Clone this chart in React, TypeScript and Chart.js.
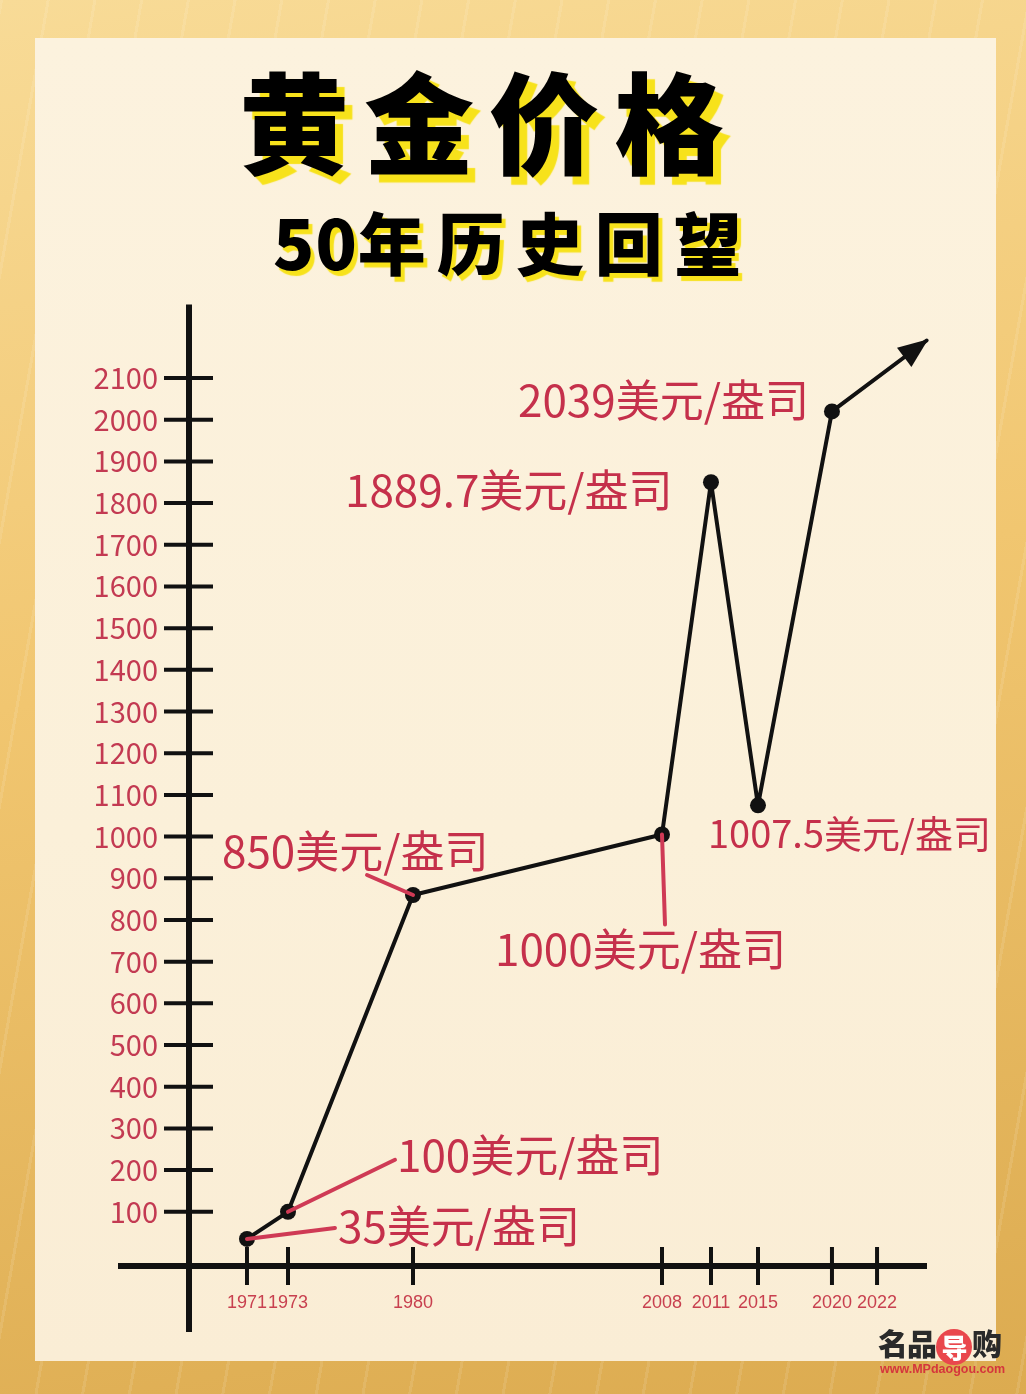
import React, { useEffect, useRef } from 'react';
import { Chart, registerables, LinearScale } from 'chart.js';

Chart.register(...registerables);

// ---------- data ----------
const years = [1971, 1973, 1980, 2008, 2011, 2015, 2020];
const prices = [35, 100, 860, 1005, 1850, 1075, 2020];
const priceLabels = [
  '35美元/盎司',
  '100美元/盎司',
  '850美元/盎司',
  '1000美元/盎司',
  '1889.7美元/盎司',
  '1007.5美元/盎司',
  '2039美元/盎司',
];
const trendYear = 2024.2;
const trendPrice = 2190;
const xTickYears = [1971, 1973, 1980, 2008, 2011, 2015, 2020, 2022];
const yTickValues = [100, 200, 300, 400, 500, 600, 700, 800, 900, 1000, 1100, 1200, 1300, 1400, 1500, 1600, 1700, 1800, 1900, 2000, 2100];

// ---------- layout / style ----------
// the hand-drawn x axis is not to scale: each tick year sits at a fixed fraction of the axis
const xAnchorFractions = [0.0798, 0.1353, 0.3045, 0.6414, 0.7077, 0.7713, 0.8714, 0.9324];
const labelLayout = [
  { dx: 91, dy: -13, size: 44, leader: [88, -11] },
  { dx: 109, dy: -57, size: 44, leader: [107, -52] },
  { dx: -191, dy: -44, size: 44, leader: [-46, -20] },
  { dx: -167, dy: 115, size: 44, leader: [3, 90] },
  { dx: -366, dy: 8, size: 44 },
  { dx: -50, dy: 28, size: 38 },
  { dx: -314, dy: -11, size: 44 },
];
const RED = '#c5304b';
const INK = '#111111';

class BrokenYearScale extends LinearScale {
  static id = 'brokenYear';
  static defaults = LinearScale.defaults;
  getPixelForValue(value: number) {
    if (value === null || value === undefined || isNaN(value)) return NaN;
    const vs = xTickYears;
    const fs = xAnchorFractions;
    let i = 0;
    while (i < vs.length - 2 && value > vs[i + 1]) i++;
    const f = fs[i] + ((value - vs[i]) * (fs[i + 1] - fs[i])) / (vs[i + 1] - vs[i]);
    return this.getPixelForDecimal(f);
  }
  getValueForPixel(pixel: number) {
    const f = this.getDecimalForPixel(pixel);
    const vs = xTickYears;
    const fs = xAnchorFractions;
    let i = 0;
    while (i < fs.length - 2 && f > fs[i + 1]) i++;
    return vs[i] + ((f - fs[i]) * (vs[i + 1] - vs[i])) / (fs[i + 1] - fs[i]);
  }
}
Chart.register(BrokenYearScale as any);

const axesPlugin = {
  id: 'handAxes',
  beforeDatasetsDraw(chart: any) {
    const { ctx, chartArea, scales } = chart;
    const xs = scales.x;
    const ys = scales.y;
    ctx.save();
    ctx.strokeStyle = INK;
    ctx.lineCap = 'butt';
    ctx.lineWidth = 6;
    ctx.beginPath();
    ctx.moveTo(chartArea.left + 1, chartArea.top - 11);
    ctx.lineTo(chartArea.left + 1, chartArea.bottom + 66);
    ctx.stroke();
    ctx.beginPath();
    ctx.moveTo(chartArea.left - 70, chartArea.bottom);
    ctx.lineTo(chartArea.right, chartArea.bottom);
    ctx.stroke();
    ctx.lineWidth = 4;
    ys.ticks.forEach((t: any) => {
      const y = ys.getPixelForValue(t.value);
      ctx.beginPath();
      ctx.moveTo(chartArea.left - 24, y);
      ctx.lineTo(chartArea.left + 25, y);
      ctx.stroke();
    });
    xs.ticks.forEach((t: any) => {
      const x = xs.getPixelForValue(t.value);
      ctx.beginPath();
      ctx.moveTo(x, chartArea.bottom - 19);
      ctx.lineTo(x, chartArea.bottom + 19);
      ctx.stroke();
    });
    ctx.restore();
  },
};

const annotatePlugin = {
  id: 'priceNotes',
  afterDatasetsDraw(chart: any) {
    const { ctx } = chart;
    const meta = chart.getDatasetMeta(0);
    const pts = meta.data;
    ctx.save();
    const tip = pts[pts.length - 1];
    const prev = pts[pts.length - 2];
    const ang = Math.atan2(tip.y - prev.y, tip.x - prev.x);
    ctx.fillStyle = INK;
    ctx.beginPath();
    ctx.moveTo(tip.x + 2 * Math.cos(ang), tip.y + 2 * Math.sin(ang));
    ctx.lineTo(tip.x - 28 * Math.cos(ang) + 12 * Math.sin(ang), tip.y - 28 * Math.sin(ang) - 12 * Math.cos(ang));
    ctx.lineTo(tip.x - 28 * Math.cos(ang) - 12 * Math.sin(ang), tip.y - 28 * Math.sin(ang) + 12 * Math.cos(ang));
    ctx.closePath();
    ctx.fill();
    ctx.strokeStyle = '#cf3a55';
    ctx.lineWidth = 4;
    ctx.lineCap = 'round';
    ctx.fillStyle = RED;
    ctx.textAlign = 'left';
    ctx.textBaseline = 'middle';
    priceLabels.forEach((txt, i) => {
      const p = pts[i];
      const lay = labelLayout[i];
      if (lay.leader) {
        ctx.beginPath();
        ctx.moveTo(p.x, p.y);
        ctx.lineTo(p.x + lay.leader[0], p.y + lay.leader[1]);
        ctx.stroke();
      }
      ctx.font = `${lay.size}px "Noto Sans CJK SC", "Noto Sans", sans-serif`;
      ctx.fillText(txt, p.x + lay.dx, p.y + lay.dy);
    });
    ctx.restore();
  },
};

export default function App() {
  const ref = useRef<HTMLCanvasElement>(null);
  useEffect(() => {
    const canvas = ref.current!;
    const data = years.map((x, i) => ({ x, y: prices[i] }));
    data.push({ x: trendYear, y: trendPrice });
    const chart = new Chart(canvas, {
      type: 'line',
      data: {
        datasets: [
          {
            label: '黄金价格',
            data,
            borderColor: INK,
            borderWidth: 4,
            borderJoinStyle: 'round',
            borderCapStyle: 'round',
            backgroundColor: INK,
            pointBackgroundColor: INK,
            pointBorderWidth: 0,
            pointRadius: [...years.map(() => 8), 0],
            tension: 0,
            clip: false as any,
          },
        ],
      },
      options: {
        responsive: false,
        animation: false,
        devicePixelRatio: 1,
        events: [],
        layout: { padding: { left: 0, top: 315.5, right: 99, bottom: 68 } },
        plugins: { legend: { display: false }, tooltip: { enabled: false }, title: { display: false } },
        scales: {
          x: {
            type: 'brokenYear' as any,
            position: 'bottom',
            min: 1968,
            max: 2025,
            grid: { display: false, drawTicks: false },
            border: { display: false },
            afterBuildTicks: (s: any) => {
              s.ticks = xTickYears.map((v) => ({ value: v }));
            },
            afterFit: (s: any) => {
              s.height = 60;
            },
            ticks: {
              autoSkip: false,
              maxRotation: 0,
              minRotation: 0,
              padding: 26,
              color: '#c8404f',
              font: { family: '"Liberation Sans", Arial, sans-serif', size: 18 },
              callback: (v: any) => String(v),
            },
          } as any,
          y: {
            type: 'linear',
            position: 'left',
            min: -30,
            max: 2250,
            grid: { display: false, drawTicks: false },
            border: { display: false },
            afterBuildTicks: (s: any) => {
              s.ticks = yTickValues.map((v) => ({ value: v }));
            },
            afterFit: (s: any) => {
              s.width = 188;
            },
            ticks: {
              autoSkip: false,
              padding: 30,
              color: '#c33a52',
              font: { family: '"Noto Sans CJK SC", "Noto Sans", sans-serif', size: 29 },
              callback: (v: any) => String(v),
            },
          } as any,
        },
      },
      plugins: [axesPlugin, annotatePlugin],
    });
    return () => chart.destroy();
  }, []);

  return (
    <div
      style={{
        position: 'absolute',
        left: 0,
        top: 0,
        width: 1026,
        height: 1394,
        overflow: 'hidden',
        background:
          'repeating-linear-gradient(100deg, rgba(255,255,255,0.10) 0px, rgba(255,255,255,0.10) 3px, rgba(255,255,255,0) 3px, rgba(255,255,255,0) 46px), linear-gradient(170deg, #f8db97 0%, #f1c670 45%, #dcab50 100%)',
      }}
    >
      <div
        style={{
          position: 'absolute',
          left: 35,
          top: 38,
          width: 961,
          height: 1323,
          background: 'linear-gradient(180deg, #fcf2de 0%, #fbf0d9 60%, #faedd5 100%)',
        }}
      />
      <div
        style={{
          position: 'absolute',
          left: 239,
          top: 63,
          fontFamily: '"Noto Sans CJK SC", sans-serif',
          fontWeight: 900,
          fontSize: 110,
          lineHeight: '110px',
          letterSpacing: 15,
          color: '#000',
          whiteSpace: 'nowrap',
          textShadow: '8px 8px 1px #f7e21b',
        }}
      >
        黄金价格
      </div>
      <div
        style={{
          position: 'absolute',
          left: 273,
          top: 207,
          fontFamily: '"Noto Sans CJK SC", sans-serif',
          fontWeight: 900,
          fontSize: 68,
          lineHeight: '68px',
          color: '#000',
          whiteSpace: 'nowrap',
          textShadow: '4px 5px 1px #f7e21b',
        }}
      >
        <span style={{ letterSpacing: 1 }}>50</span>
        <span style={{ letterSpacing: 11 }}>年历史回望</span>
      </div>
      <canvas
        ref={ref}
        width={1026}
        height={1394}
        style={{ position: 'absolute', left: 0, top: 0, width: 1026, height: 1394 }}
      />
      <div
        style={{
          position: 'absolute',
          left: 878,
          top: 1322,
          fontFamily: '"Noto Sans CJK SC", sans-serif',
          fontWeight: 900,
          fontSize: 30,
          lineHeight: '40px',
          color: '#2a2a2a',
          whiteSpace: 'nowrap',
          letterSpacing: -1,
        }}
      >
        名品
        <span
          style={{
            display: 'inline-block',
            width: 36,
            height: 36,
            lineHeight: '36px',
            borderRadius: 18,
            background: '#e9474d',
            color: '#fff',
            textAlign: 'center',
            verticalAlign: 'middle',
            fontSize: 26,
          }}
        >
          导
        </span>
        购
      </div>
      <div
        style={{
          position: 'absolute',
          left: 880,
          top: 1362,
          fontFamily: '"Liberation Sans", Arial, sans-serif',
          fontWeight: 700,
          fontSize: 12.5,
          color: '#d5363c',
          whiteSpace: 'nowrap',
        }}
      >
        www.MPdaogou.com
      </div>
    </div>
  );
}
